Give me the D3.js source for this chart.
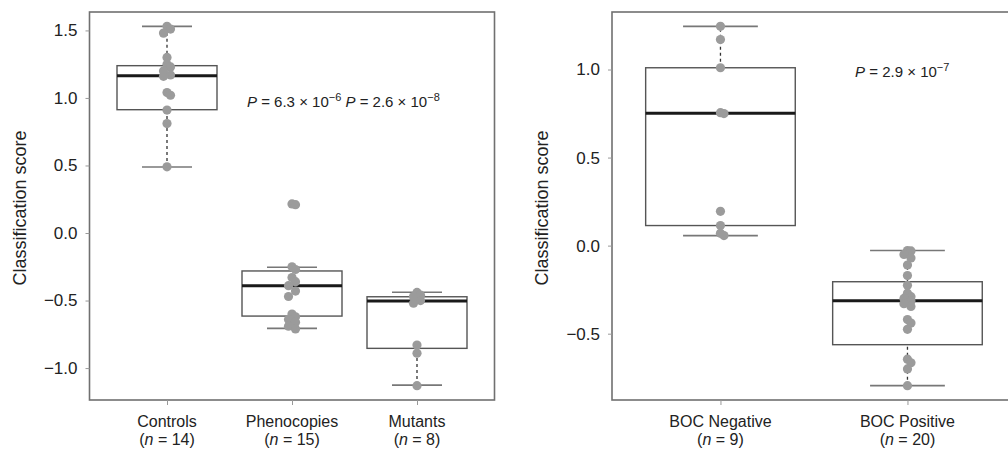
<!DOCTYPE html>
<html>
<head>
<meta charset="utf-8">
<script src="https://cdn.jsdelivr.net/npm/d3@7"></script>
<style>
  body { margin: 0; background: #fff; }
  svg text { font-family: "Liberation Sans", Arial, sans-serif; fill: #222; }
</style>
</head>
<body>
<svg id="chart" width="1008" height="450"></svg>
<script>
// ---- data ----
let leftGroups = ["Controls", "Phenocopies", "Mutants"];
let leftN = [14, 15, 8];
let leftPoints = [
  [1.53, 1.51, 1.48, 1.30, 1.25, 1.23, 1.20, 1.17, 1.16, 1.04, 1.02, 0.91, 0.81, 0.49],
  [0.215, 0.21, -0.25, -0.27, -0.33, -0.36, -0.39, -0.43, -0.47, -0.60, -0.62, -0.64, -0.66, -0.69, -0.71],
  [-0.44, -0.46, -0.47, -0.50, -0.52, -0.83, -0.89, -1.13]
];
// [lower whisker, q1, median, q3, upper whisker]
let leftStats = [
  [0.489, 0.913, 1.165, 1.239, 1.53],
  [-0.706, -0.615, -0.39, -0.281, -0.254],
  [-1.126, -0.854, -0.504, -0.472, -0.439]
];
let leftTicks = [-1.0, -0.5, 0.0, 0.5, 1.0, 1.5];
let leftP = ["6.3", "−6", "2.6", "−8"];

let rightGroups = ["BOC Negative", "BOC Positive"];
let rightN = [9, 20];
let rightPoints = [
  [1.245, 1.17, 1.01, 0.755, 0.75, 0.195, 0.114, 0.07, 0.057],
  [-0.028, -0.03, -0.05, -0.07, -0.11, -0.17, -0.225, -0.27, -0.29, -0.30,
   -0.315, -0.33, -0.345, -0.42, -0.44, -0.475, -0.645, -0.665, -0.70, -0.795]
];
let rightStats = [
  [0.057, 0.114, 0.752, 1.01, 1.245],
  [-0.795, -0.5625, -0.3125, -0.205, -0.028]
];
let rightTicks = [-0.5, 0.0, 0.5, 1.0];
let rightP = ["2.9", "−7"];

let svg = d3.select("#chart");
let plotTop = 12, plotBottom = 400;
let fmt = d3.format(".1f");

function drawPanel(opt) {
  let n = opt.groups.length;
  let x = d3.scaleLinear()
    .domain([0.5 - 0.04 * n, n + 0.5 + 0.04 * n])
    .range([opt.left, opt.left + opt.unit * (n + 0.08 * n)]);
  let all = opt.points.flat();
  let ext = d3.extent(all);
  let pad = (ext[1] - ext[0]) * 0.04;
  let y = d3.scaleLinear()
    .domain([ext[0] - pad, ext[1] + pad])
    .range([plotBottom, plotTop]);

  let g = svg.append("g");
  let bw = 0.4; // half box width in x units

  // whiskers (dashed)
  opt.stats.forEach((s, i) => {
    let cx = x(i + 1);
    g.append("line").attr("x1", cx).attr("x2", cx)
      .attr("y1", y(s[3])).attr("y2", y(s[4]))
      .attr("stroke", "#333").attr("stroke-width", 1.3).attr("stroke-dasharray", "3,3");
    g.append("line").attr("x1", cx).attr("x2", cx)
      .attr("y1", y(s[0])).attr("y2", y(s[1]))
      .attr("stroke", "#333").attr("stroke-width", 1.3).attr("stroke-dasharray", "3,3");
    // caps
    [s[0], s[4]].forEach(v => {
      g.append("line").attr("x1", x(i + 1 - bw / 2)).attr("x2", x(i + 1 + bw / 2))
        .attr("y1", y(v)).attr("y2", y(v))
        .attr("stroke", "#777").attr("stroke-width", 1.6);
    });
    // box
    g.append("rect")
      .attr("x", x(i + 1 - bw)).attr("width", x(i + 1 + bw) - x(i + 1 - bw))
      .attr("y", y(s[3])).attr("height", y(s[1]) - y(s[3]))
      .attr("fill", "none").attr("stroke", "#555").attr("stroke-width", 1.4);
    // median
    g.append("line").attr("x1", x(i + 1 - bw)).attr("x2", x(i + 1 + bw))
      .attr("y1", y(s[2])).attr("y2", y(s[2]))
      .attr("stroke", "#1a1a1a").attr("stroke-width", 3);
  });

  // points, small offsets so that near-equal values do not hide each other
  opt.points.forEach((pts, i) => {
    let prev = null, side = 1;
    pts.slice().sort((a, b) => b - a).forEach(v => {
      let dx = 0;
      if (prev !== null && Math.abs(y(v) - y(prev)) < 6) { dx = 3.5 * side; side = -side; }
      else side = 1;
      prev = v;
      g.append("circle")
        .attr("cx", x(i + 1) + dx).attr("cy", y(v)).attr("r", 4.6)
        .attr("fill", "#9b9b9b");
    });
  });

  // frame
  g.append("rect")
    .attr("x", x.range()[0]).attr("y", plotTop)
    .attr("width", x.range()[1] - x.range()[0]).attr("height", plotBottom - plotTop)
    .attr("fill", "none").attr("stroke", "#707070").attr("stroke-width", 1.6);

  // y axis
  let ya = g.append("g")
    .attr("transform", "translate(" + x.range()[0] + ",0)")
    .call(d3.axisLeft(y).tickValues(opt.ticks).tickFormat(fmt).tickSize(4).tickPadding(8));
  ya.select(".domain").remove();
  ya.selectAll(".tick line").attr("stroke", "#999");
  ya.selectAll(".tick text").style("font-size", "17px").attr("fill", "#222");

  // x axis
  let xa = g.append("g")
    .attr("transform", "translate(0," + plotBottom + ")")
    .call(d3.axisBottom(x).tickValues(d3.range(1, n + 1)).tickFormat("").tickSize(5));
  xa.select(".domain").remove();
  xa.selectAll(".tick line").attr("stroke", "#999");
  opt.groups.forEach((name, i) => {
    let t = g.append("text")
      .attr("x", x(i + 1)).attr("y", 427)
      .attr("text-anchor", "middle").style("font-size", "16px");
    t.append("tspan").attr("x", x(i + 1)).text(name);
    let t2 = t.append("tspan").attr("x", x(i + 1)).attr("dy", 18);
    t2.append("tspan").text("(");
    t2.append("tspan").attr("font-style", "italic").text("n");
    t2.append("tspan").text(" = " + opt.n[i] + ")");
  });

  // y axis title
  g.append("text")
    .attr("transform", "translate(" + (x.range()[0] - 64) + "," + ((plotTop + plotBottom) / 2 + 2) + ") rotate(-90)")
    .attr("text-anchor", "middle")
    .style("font-size", "18px")
    .text("Classification score");

  // p values
  let pt = g.append("text")
    .attr("x", x(opt.pAt[0])).attr("y", y(opt.pAt[1]))
    .style("font-size", "15px");
  for (let k = 0; k < opt.p.length; k += 2) {
    pt.append("tspan").attr("font-style", "italic").attr("dy", k > 0 ? 6 : 0).text((k > 0 ? " " : "") + "P");
    pt.append("tspan").text(" = " + opt.p[k] + " × 10");
    pt.append("tspan").attr("dy", -6).style("font-size", "11px").text(opt.p[k + 1]);
  }
  return g;
}

drawPanel({
  groups: leftGroups, n: leftN, points: leftPoints, stats: leftStats,
  ticks: leftTicks, p: leftP, pAt: [1.64, 0.935],
  left: 89.5, unit: 125
});

drawPanel({
  groups: rightGroups, n: rightN, points: rightPoints, stats: rightStats,
  ticks: rightTicks, p: rightP, pAt: [1.72, 0.96],
  left: 612, unit: 187
});
</script>
</body>
</html>
